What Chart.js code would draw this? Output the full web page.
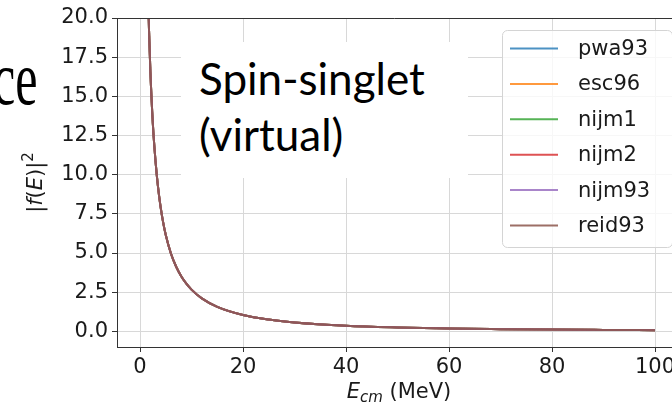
<!doctype html>
<html lang="en">
 <head>
  <meta charset="utf-8">
  <style>
body { margin: 0; overflow: hidden; background: #fff; }
#wrap { position: relative; width: 672px; height: 410px; overflow: hidden; }
#plot { position: absolute; left: 0; top: 0; }

/* bits of the slide that sit over the chart */
.slide-ce {
  position: absolute; right: 635px; top: 40px;
  font-family: "Liberation Serif", serif; font-size: 76px; line-height: 1;
  transform: scaleX(0.66); transform-origin: right center;
  color: #000; white-space: nowrap;
}
.label-box {
  position: absolute; left: 181px; top: 42px; width: 287px; height: 136px;
  background: #fff;
}
.label-text {
  position: absolute; left: 199px; top: 51px;
  font-family: Lato, sans-serif; font-size: 44px; line-height: 55.5px;
  color: #000; white-space: nowrap;
}
  </style>
  <title>|f(E)|^2 spin-singlet</title>
 </head>
 <body>
  <div id="wrap">
   <canvas id="plot" width="672" height="410"></canvas>
   <div class="slide-ce">ce</div>
   <div class="label-box"></div>
   <div class="label-text">Spin-singlet<br>(virtual)</div>
  </div>

  <script src="https://cdn.jsdelivr.net/npm/chart.js@4.4.0/dist/chart.umd.min.js"></script>
  <script>
// values (all six curves lie on top of each other)
var energies = [1.5, 1.75, 2, 2.5, 3, 3.5, 4, 4.5, 5, 6, 7, 8, 9, 10, 12, 15, 20, 25, 30, 40, 50, 60, 70, 80, 90, 100];
var fSquared = [22.5, 19.2, 16.7, 13.2, 10.9, 9.2, 7.93, 6.94, 6.15, 4.97, 4.14, 3.52, 3.04, 2.66, 2.10, 1.56, 1.04, 0.75, 0.57, 0.36, 0.25, 0.18, 0.14, 0.11, 0.09, 0.075];

var seriesNames = ['pwa93', 'esc96', 'nijm1', 'nijm2', 'nijm93', 'reid93'];
var seriesColors = ['rgba(31,119,180,0.8)', 'rgba(255,127,14,0.8)', 'rgba(44,160,44,0.8)',
                    'rgba(214,39,40,0.8)', 'rgba(148,103,189,0.8)', 'rgba(140,86,75,0.85)'];

var xTicks = [0, 20, 40, 60, 80, 100];
var yTicks = [0, 2.5, 5, 7.5, 10, 12.5, 15, 17.5, 20];

const TICK_FONT = { family: 'DejaVu Sans', size: 21 };
const SPINE = '#333';
const GRID = '#d8d8d8';

const datasets = seriesNames.map(function (name, i) {
  return {
    label: name,
    data: energies.map(function (e, j) { return { x: e, y: fSquared[j] }; }),
    borderColor: seriesColors[i],
    borderWidth: 2,
    pointRadius: 0,
    cubicInterpolationMode: 'monotone',
    fill: false,
    order: seriesNames.length - i, // last series ends up on top, like matplotlib
  };
});

// draw a string made of pieces with different fonts, centred on cx
function drawPieces(ctx, pieces, cx, y) {
  var w = 0;
  pieces.forEach(function (p) { ctx.font = p[1]; w += ctx.measureText(p[0]).width; });
  var x = cx - w / 2;
  pieces.forEach(function (p) {
    ctx.font = p[1];
    ctx.fillText(p[0], x, y + p[2]);
    x += ctx.measureText(p[0]).width;
  });
}

const extras = {
  id: 'extras',
  afterDraw: function (chart) {
    const ctx = chart.ctx;
    const a = chart.chartArea;
    ctx.save();

    // top spine (matplotlib box)
    ctx.strokeStyle = SPINE;
    ctx.lineWidth = 1;
    ctx.beginPath();
    ctx.moveTo(a.left, a.top + 0.5);
    ctx.lineTo(a.right, a.top + 0.5);
    ctx.stroke();

    // axis titles with mathtext-ish pieces
    ctx.fillStyle = '#1a1a1a';
    ctx.textBaseline = 'alphabetic';
    ctx.textAlign = 'left';
    const reg = '21px "DejaVu Sans"';
    const ita = 'italic 21px "DejaVu Sans"';
    const small = 'italic 15px "DejaVu Sans"';
    drawPieces(ctx, [['E', ita, 0], ['cm', small, 4], [' (MeV)', reg, 0]], 399, 398);

    ctx.save();
    ctx.translate(42, (a.top + a.bottom) / 2);
    ctx.rotate(-Math.PI / 2);
    drawPieces(ctx, [['|', reg, 0], ['f', ita, 0], ['(', reg, 0], ['E', ita, 0], [')|', reg, 0],
                     ['2', '15px "DejaVu Sans"', -9]], 0, 0);
    ctx.restore();

    // legend box
    const bx = 502, by = 30, bw = 170, bh = 217, r = 5;
    ctx.beginPath();
    ctx.roundRect(bx + 0.5, by + 0.5, bw, bh, r);
    ctx.fillStyle = 'rgba(255,255,255,0.8)';
    ctx.fill();
    ctx.strokeStyle = '#d4d4d4';
    ctx.stroke();

    ctx.font = reg;
    ctx.textBaseline = 'middle';
    chart.data.datasets.forEach(function (ds, i) {
      const y = 48.5 + i * 35.4;
      ctx.strokeStyle = ds.borderColor;
      ctx.lineWidth = 2;
      ctx.beginPath();
      ctx.moveTo(510, y);
      ctx.lineTo(558, y);
      ctx.stroke();
      ctx.fillStyle = '#1a1a1a';
      ctx.fillText(ds.label, 578, y + 1);
    });
    ctx.restore();
  }
};

const plot = new Chart(document.getElementById('plot'), {
  type: 'line',
  data: { datasets: datasets },
  options: {
    animation: false,
    responsive: false,
    layout: { padding: { top: 18, right: 0, bottom: 0, left: 0 } },
    scales: {
      x: {
        type: 'linear',
        min: -4.47,
        max: 103.3,
        afterBuildTicks: function (s) { s.ticks = xTicks.map(function (v) { return { value: v }; }); },
        afterFit: function (s) { s.height = 63; s.paddingLeft = 0; s.paddingRight = 0; },
        ticks: {
          font: TICK_FONT, color: '#1a1a1a', padding: 3, autoSkip: false, maxRotation: 0,
          callback: function (v) { return String(v); }
        },
        grid: { color: GRID, lineWidth: 1, tickLength: 5, tickColor: SPINE },
        border: { color: SPINE, width: 1 },
      },
      y: {
        type: 'linear',
        min: -1,
        max: 20,
        afterBuildTicks: function (s) { s.ticks = yTicks.map(function (v) { return { value: v }; }); },
        afterFit: function (s) { s.width = 117; s.paddingTop = 0; s.paddingBottom = 0; },
        ticks: {
          font: TICK_FONT, color: '#1a1a1a', padding: 4, autoSkip: false,
          callback: function (v) { return v.toFixed(1); }
        },
        grid: { color: GRID, lineWidth: 1, tickLength: 5, tickColor: SPINE },
        border: { color: SPINE, width: 1 },
      }
    },
    plugins: {
      legend: { display: false },
      tooltip: { enabled: false }
    }
  },
  plugins: [extras]
});
  </script>
 </body>
</html>
